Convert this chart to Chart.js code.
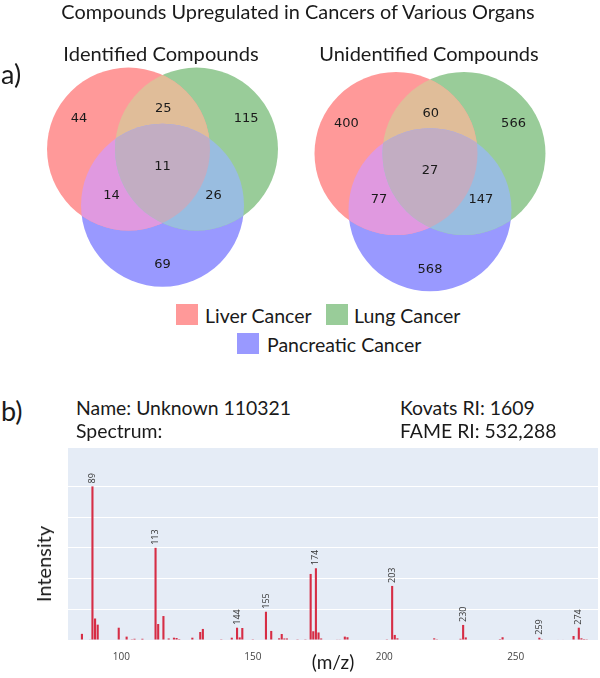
<!DOCTYPE html>
<html>
<head>
<meta charset="utf-8">
<title>Compounds Upregulated in Cancers of Various Organs</title>
<script src="https://cdn.jsdelivr.net/npm/chart.js@4.4.0/dist/chart.umd.min.js"></script>
<style>
  body { margin: 0; background: #fff; }
  #page { position: relative; width: 600px; height: 678px; overflow: hidden; font-family: Lato, 'Open Sans', sans-serif; color: #1a1a1a; }
  canvas { position: absolute; left: 0; }
  .txt { position: absolute; white-space: nowrap; line-height: 1; }
  .mid { transform: translate(-50%, -50%); }
  .left { transform: translateY(-50%); }
  .sw { position: absolute; width: 22px; height: 21px; }
</style>
</head>
<body>
<div id="page">
  <canvas id="venn" width="600" height="300" style="top:0"></canvas>
  <canvas id="spectrum" width="600" height="238" style="top:440px"></canvas>

  <div class="txt mid" style="left:298px;top:12px;font-size:19.9px">Compounds Upregulated in Cancers of Various Organs</div>
  <div class="txt left" style="left:1px;top:73px;font-size:27px">a)</div>
  <div class="txt mid" style="left:161px;top:53px;font-size:20.1px">Identified Compounds</div>
  <div class="txt mid" style="left:429px;top:53px;font-size:20px">Unidentified Compounds</div>

  <div class="sw" id="sw0" style="left:176px;top:304px"></div>
  <div class="txt left" style="left:205px;top:316px;font-size:19.5px">Liver Cancer</div>
  <div class="sw" id="sw1" style="left:326px;top:304px"></div>
  <div class="txt left" style="left:354px;top:316px;font-size:19.5px">Lung Cancer</div>
  <div class="sw" id="sw2" style="left:237px;top:333px"></div>
  <div class="txt left" style="left:267px;top:345px;font-size:19.5px">Pancreatic Cancer</div>

  <div class="txt left" style="left:1px;top:410px;font-size:27px">b)</div>
  <div class="txt left" style="left:76px;top:408px;font-size:19.4px">Name: Unknown 110321</div>
  <div class="txt left" style="left:76px;top:431px;font-size:19.4px">Spectrum:</div>
  <div class="txt left" style="left:400px;top:408px;font-size:19.4px">Kovats RI: 1609</div>
  <div class="txt left" style="left:400px;top:431px;font-size:19.4px">FAME RI: 532,288</div>
  <div class="txt mid" style="left:43px;top:564px;font-size:20px;transform:translate(-50%,-50%) rotate(-90deg)">Intensity</div>
</div>

<script>
// --- venn data (region order: L, Lu, L&Lu, P, L&P, Lu&P, all) ---
const setNames = ['Liver Cancer', 'Lung Cancer', 'Pancreatic Cancer'];
const identifiedCounts = [44, 115, 25, 69, 14, 26, 11];
const unidentifiedCounts = [400, 566, 60, 568, 77, 147, 27];

// --- spectrum data ---
const mzValues = [85, 88, 89, 90, 91, 99, 102, 104, 105, 108, 113, 114, 116, 118, 120, 121, 122, 127, 130, 131,
  138, 142, 144, 145, 146, 150, 155, 157, 160, 161, 162, 163, 167, 170, 172, 173, 174, 175, 176, 182,
  183, 185, 186, 201, 203, 204, 205, 219, 220, 229, 230, 231, 244, 245, 259, 260, 266, 268, 272, 274,
  275, 276, 277];
const intensities = [4, 0.4, 100, 14, 10, 8, 2.2, 0.5, 0.8, 0.8, 60, 10.4, 15.6, 1, 1.5, 1.3, 0.6, 1.5, 5.2, 7.2,
  0.5, 1.5, 8, 1.7, 7.8, 0.5, 18.4, 5.9, 1.1, 3.9, 1, 1, 0.5, 0.5, 43, 5.7, 46.7, 4.9, 1, 0.4,
  0.4, 2.2, 1.8, 0.5, 35.2, 3.3, 1.1, 1.1, 0.5, 0.8, 9.8, 1.7, 0.6, 1.8, 1.5, 0.5, 0.3, 0.3, 2.6, 8,
  1.1, 0.6, 0.5];
const labelledPeaks = [89, 113, 144, 155, 174, 203, 230, 259, 274];
const xTicks = [100, 150, 200, 250];
const yGrid = [0, 20, 40, 60, 80, 100];

// --- look ---
const setColours = ['#ff9999', '#99cc99', '#9999ff'];
const overlapColours = { lLu: '#e0bd99', lP: '#e099e0', luP: '#99bde0', all: '#c2adc2' };
const barColour = '#d62d45';

// venn geometry, in circle radii
const circleRadius = 1;
const circleCentres = [{ x: -0.417, y: 0.23 }, { x: 0.417, y: 0.23 }, { x: 0, y: -0.46 }];
const vennOrigins = [{ x: 0, y: 0 }, { x: 3.282, y: -0.055 }];
const regionLabelPos = [
  { x: -1.025, y: 0.6 }, { x: 1.025, y: 0.6 }, { x: 0.01, y: 0.725 }, { x: 0, y: -1.19 },
  { x: -0.626, y: -0.337 }, { x: 0.625, y: -0.337 }, { x: 0, y: 0.015 }
];

setColours.forEach((c, i) => { document.getElementById('sw' + i).style.background = c; });

function clipFill(ctx, circles, colour) {
  ctx.save();
  circles.slice(0, -1).forEach(c => {
    ctx.beginPath(); ctx.arc(c.x, c.y, c.options.radius, 0, Math.PI * 2); ctx.clip();
  });
  const last = circles[circles.length - 1];
  ctx.beginPath(); ctx.arc(last.x, last.y, last.options.radius, 0, Math.PI * 2);
  ctx.fillStyle = colour; ctx.fill();
  ctx.restore();
}

const vennOverlaps = {
  id: 'vennOverlaps',
  afterDatasetsDraw(chart) {
    const ctx = chart.ctx;
    const metas = [0, 1, 2].map(d => chart.getDatasetMeta(d).data);
    const sx = chart.scales.x, sy = chart.scales.y;
    [identifiedCounts, unidentifiedCounts].forEach((counts, v) => {
      const [l, lu, p] = metas.map(m => m[v]);
      if (!(l.options.radius > 1)) return;
      clipFill(ctx, [l, lu], overlapColours.lLu);
      clipFill(ctx, [l, p], overlapColours.lP);
      clipFill(ctx, [lu, p], overlapColours.luP);
      clipFill(ctx, [l, lu, p], overlapColours.all);
      ctx.save();
      ctx.font = '13px "DejaVu Sans"';
      ctx.fillStyle = '#1a1a1a';
      ctx.textAlign = 'center';
      ctx.textBaseline = 'middle';
      counts.forEach((n, r) => {
        const pos = regionLabelPos[r];
        ctx.fillText(String(n), sx.getPixelForValue(vennOrigins[v].x + pos.x), sy.getPixelForValue(vennOrigins[v].y + pos.y));
      });
      ctx.restore();
    });
  }
};

const vennChart = new Chart(document.getElementById('venn'), {
  type: 'bubble',
  data: {
    datasets: setNames.map((name, s) => ({
      label: name,
      data: vennOrigins.map(o => ({ x: o.x + circleCentres[s].x, y: o.y + circleCentres[s].y, r: 1 })),
      backgroundColor: setColours[s],
      borderWidth: 0
    }))
  },
  options: {
    responsive: false, animation: false, events: [],
    layout: { padding: 0, autoPadding: false },
    plugins: { legend: { display: false }, tooltip: { enabled: false } },
    scales: {
      x: { type: 'linear', display: false, min: -1.994, max: 5.368 },
      y: { type: 'linear', display: false, min: -1.622, max: 2.059 }
    }
  },
  plugins: [vennOverlaps]
});
// bubble r is in pixels, so take it from the laid-out x scale
const vx = vennChart.scales.x;
const radiusPx = vx.getPixelForValue(circleRadius) - vx.getPixelForValue(0);
vennChart.data.datasets.forEach(d => d.data.forEach(pt => { pt.r = radiusPx; }));
vennChart.update();

const plotBg = {
  id: 'plotBg',
  beforeDraw(chart) {
    const { ctx, chartArea: a } = chart;
    ctx.save();
    ctx.fillStyle = '#e5ecf6';
    ctx.fillRect(a.left, a.top, a.right - a.left, a.bottom - a.top);
    ctx.restore();
  }
};

const peakLabels = {
  id: 'peakLabels',
  afterDatasetsDraw(chart) {
    const ctx = chart.ctx;
    const meta = chart.getDatasetMeta(0);
    ctx.save();
    ctx.font = '9px "Open Sans"';
    ctx.fillStyle = '#333';
    ctx.textAlign = 'left';
    ctx.textBaseline = 'middle';
    labelledPeaks.forEach(mz => {
      const bar = meta.data[mzValues.indexOf(mz)];
      ctx.save();
      ctx.translate(bar.x, bar.y - 3);
      ctx.rotate(-Math.PI / 2);
      ctx.fillText(String(mz), 0, 0);
      ctx.restore();
    });
    ctx.restore();
  }
};

new Chart(document.getElementById('spectrum'), {
  type: 'bar',
  data: {
    datasets: [{
      data: mzValues.map((x, i) => ({ x, y: intensities[i] })),
      backgroundColor: barColour,
      barPercentage: 1,
      categoryPercentage: 0.8
    }]
  },
  options: {
    responsive: false, animation: false, events: [],
    layout: { padding: { top: 8, right: 2, left: 0, bottom: 0 } },
    plugins: { legend: { display: false }, tooltip: { enabled: false } },
    scales: {
      x: {
        type: 'linear', min: 79.7, max: 281.3, offset: false,
        grid: { display: false }, border: { display: false },
        afterBuildTicks: s => { s.ticks = xTicks.map(v => ({ value: v })); },
        ticks: { font: { family: 'Open Sans', size: 10 }, color: '#444', padding: 3, maxRotation: 0 },
        title: { display: true, text: '(m/z)', font: { family: 'Lato', size: 19 }, color: '#1a1a1a', padding: { top: 0, bottom: 4 } },
        afterFit: s => { s.height = 38; }
      },
      y: {
        min: 0, max: 125,
        afterBuildTicks: s => { s.ticks = yGrid.map(v => ({ value: v })); },
        ticks: { display: false },
        grid: { color: '#ffffff', lineWidth: 1, drawTicks: false },
        border: { display: false },
        afterFit: s => { s.width = 68; }
      }
    }
  },
  plugins: [plotBg, peakLabels]
});
</script>
</body>
</html>
